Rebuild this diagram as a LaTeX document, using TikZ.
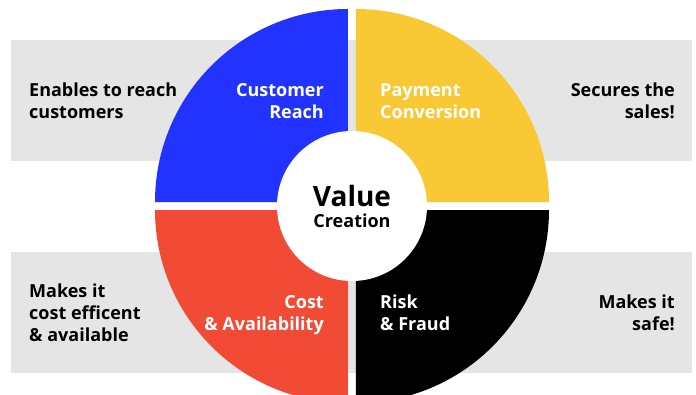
\documentclass[tikz,border=0pt]{standalone}
\usepackage{fontspec}
\setmainfont{Open Sans}
\usetikzlibrary{positioning}
\definecolor{vcblue}{HTML}{2233FF}
\definecolor{vcyellow}{HTML}{F9C935}
\definecolor{vcred}{HTML}{F14A35}
\definecolor{vcblack}{HTML}{000000}
\definecolor{vcgray}{HTML}{E5E5E5}
\begin{document}
\begin{tikzpicture}[
  x=1pt, y=1pt,
  every node/.style={font=\fontsize{18}{22}\selectfont\bfseries, inner sep=0pt},
  sidebox/.style={fill=vcgray},
  sidetext/.style={text=black},
  quadtext/.style={text=white},
]
\useasboundingbox (-352,-188) rectangle (344,206);

% Grey side boxes
\fill[sidebox] (-341,166) rectangle (0,45);
\fill[sidebox] (0,166) rectangle (340,45);
\fill[sidebox] (-341,-46) rectangle (0,-167);
\fill[sidebox] (0,-46) rectangle (340,-167);

% Quadrants
\fill[vcblue] (-4,4) -- ++(90:193) arc (90:180:193) -- cycle;
\fill[vcyellow] (4,4) -- ++(0:193) arc (0:90:193) -- cycle;
\fill[vcred] (-4,-4) -- ++(180:193) arc (180:270:193) -- cycle;
\fill[vcblack] (4,-4) -- ++(270:193) arc (270:360:193) -- cycle;

% Centre
\fill[white] (0,0) circle (75);
\node[font=\fontsize{28}{30}\selectfont\bfseries, anchor=base] (value) at (0,0) {Value};
\node[font=\fontsize{18}{20}\selectfont\bfseries, anchor=base] (creation) at (0,-21) {Creation};

% Top row
\node[sidetext, anchor=base west, align=left] (reach) at (-323,88) {Enables to reach\\customers};
\node[quadtext, anchor=base east, align=right] (customer) at (-28,88) {Customer\\Reach};
\node[quadtext, anchor=base west, align=left] (payment) at (28,88) {Payment\\Conversion};
\node[sidetext, anchor=base east, align=right] (secures) at (323,88) {Secures the\\sales!};

% Bottom row
\node[sidetext, anchor=base west, align=left] (efficent) at (-323,-135) {Makes it\\cost efficent\\\& available};
\node[quadtext, anchor=base east, align=right] (cost) at (-28,-124) {Cost\\\& Availability};
\node[quadtext, anchor=base west, align=left] (risk) at (28,-124) {Risk\\\& Fraud};
\node[sidetext, anchor=base east, align=right] (safe) at (323,-124) {Makes it\\safe!};

\end{tikzpicture}
\end{document}
